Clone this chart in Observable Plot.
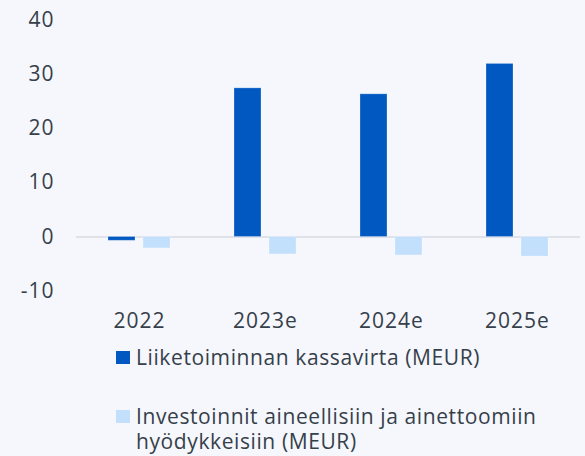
<!DOCTYPE html>
<html>
<head>
<meta charset="utf-8">
<script src="https://cdn.jsdelivr.net/npm/d3@7"></script>
<script src="https://cdn.jsdelivr.net/npm/@observablehq/plot@0.6"></script>
<style>
  html, body { margin: 0; padding: 0; background: #f5f7fc; }
  body { width: 585px; height: 456px; position: relative; overflow: hidden; font-family: "Open Sans", Lato, sans-serif; color: #36404a; }
  #chart { position: absolute; left: 0; top: 0; }
  #chart text { letter-spacing: 1px; }
  .item { position: absolute; left: 116px; display: flex; align-items: flex-start; font-size: 21px; line-height: 25px; width: 464px; letter-spacing: 0.6px; }
  .sw { width: 14px; height: 13px; flex: none; margin-top: 6px; margin-right: 6px; }
</style>
</head>
<body>
<div id="chart"></div>
<div id="legend"></div>
<script>
const years = ["2022", "2023e", "2024e", "2025e"];
const seriesNames = ["Liiketoiminnan kassavirta (MEUR)", "Investoinnit aineellisiin ja ainettoomiin hyödykkeisiin (MEUR)"];
const kassavirta = [-0.7, 27.4, 26.3, 31.9];
const investoinnit = [-2.1, -3.2, -3.4, -3.6];
const yTicks = [-10, 0, 10, 20, 30, 40];
const colors = ["#0058c0", "#c2dffc"];

const rows = [];
years.forEach((y, i) => {
  rows.push({year: y, series: seriesNames[0], value: kassavirta[i]});
  rows.push({year: y, series: seriesNames[1], value: investoinnit[i]});
});

const chart = Plot.plot({
  width: 585,
  height: 340,
  marginTop: 19.5,
  marginBottom: 49.25,
  marginLeft: 75,
  marginRight: 4,
  style: {background: "transparent", fontFamily: "'Open Sans', Lato, sans-serif", fontSize: "21px", color: "#36404a"},
  fx: {domain: years, padding: 0, axis: "bottom", tickSize: 0, tickPadding: 22, label: null},
  x: {domain: seriesNames, paddingInner: 0.222, paddingOuter: 0.868, axis: null},
  y: {domain: [-10, 40], ticks: yTicks, tickSize: 0, tickPadding: 22, label: null, tickFormat: d => String(d)},
  color: {domain: seriesNames, range: colors},
  marks: [
    Plot.ruleY([0], {stroke: "#dfe2e8", strokeWidth: 2}),
    Plot.barY(rows, {fx: "year", x: "series", y: "value", fill: "series", stroke: "#ffffff", strokeOpacity: 0.25, strokeWidth: 1})
  ]
});
document.getElementById("chart").appendChild(chart);

const legend = document.getElementById("legend");
const tops = [345, 404];
seriesNames.forEach((name, i) => {
  const item = document.createElement("div");
  item.className = "item";
  item.style.top = tops[i] + "px";
  const sw = document.createElement("span");
  sw.className = "sw";
  sw.style.background = colors[i];
  const tx = document.createElement("span");
  tx.textContent = name;
  item.appendChild(sw);
  item.appendChild(tx);
  legend.appendChild(item);
});
</script>
</body>
</html>
